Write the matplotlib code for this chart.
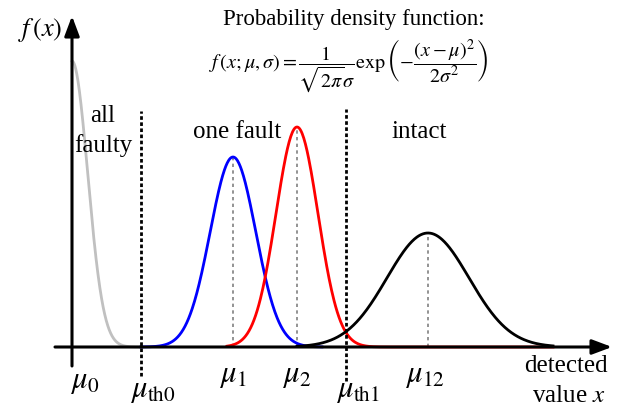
import matplotlib
matplotlib.use('Agg')
import matplotlib.pyplot as plt
import numpy as np

plt.rcParams['font.family'] = ['Liberation Serif', 'DejaVu Serif']
plt.rcParams['mathtext.fontset'] = 'stix'

# distribution parameters (x in axis units, origin at mu0)
names = ['all faulty', 'one fault 1', 'one fault 2', 'intact']
means = [0, 161, 225, 356]
sigmas = [15.7, 22.8, 21.0, 41.0]
peaks = [286, 190, 220, 114]
x_ranges = [(0, 69), (69, 250), (155, 481), (225, 481)]
colors = ['#c0c0c0', '#0000ff', '#ff0000', '#000000']

# thresholds
thresholds = [69, 274]
th_tops = [236, 238]
th_bottoms = [-29, -34]

# tick labels under the axis
tick_pos = [13, 81, 161, 225, 286, 353]
tick_y = [-34, -43, -28, -28, -43, -28]
tick_labels = [r'$\mu_0$', r'$\mu_{\mathrm{th0}}$', r'$\mu_1$', r'$\mu_2$',
               r'$\mu_{\mathrm{th1}}$', r'$\mu_{12}$']


def gauss(x, mu, sig, amp):
    return amp * np.exp(-(x - mu) ** 2 / (2 * sig ** 2))


fig = plt.figure(figsize=(6.24, 4.06), dpi=100)
ax = fig.add_axes([0, 0, 1, 1])
ax.set_xlim(-72, 552)
ax.set_ylim(-58, 348)
ax.axis('off')

for mu, sig, amp, (x0, x1), c in zip(means, sigmas, peaks, x_ranges, colors):
    xs = np.linspace(x0, x1, 400)
    ax.plot(xs, gauss(xs, mu, sig, amp), color=c, lw=2.0, zorder=3)

# dotted lines from axis to peaks
for mu, amp in zip(means[1:], peaks[1:]):
    ax.plot([mu, mu], [0, amp], color='#808080', lw=1.2,
            linestyle=(0, (2, 2)), zorder=2)

# thresholds
for th, top, bot in zip(thresholds, th_tops, th_bottoms):
    ax.plot([th, th], [bot, top], color='k', lw=2.0,
            linestyle=(0, (1.3, 0.9)), zorder=4)

# axes with arrows
ax.annotate('', xy=(540, 0), xytext=(-17, 0),
            arrowprops=dict(arrowstyle='-|>,head_length=0.8,head_width=0.3',
                            lw=2.2, color='k', mutation_scale=15,
                            shrinkA=0, shrinkB=0), zorder=5)
ax.annotate('', xy=(0, 331), xytext=(0, -19),
            arrowprops=dict(arrowstyle='-|>,head_length=0.8,head_width=0.3',
                            lw=2.2, color='k', mutation_scale=15,
                            shrinkA=0, shrinkB=0), zorder=5)

for xp, yp, lab in zip(tick_pos, tick_y, tick_labels):
    ax.text(xp, yp, lab, fontsize=22, ha='center', va='center')

ax.text(-32, 318, r'$f\,(x)$', fontsize=19, ha='center', va='center')
ax.text(282, 329, 'Probability density function:', fontsize=16.5,
        ha='center', va='center')
ax.text(277, 282,
        r'$f\,(x;\mu,\sigma)=\dfrac{1}{\sqrt{2\pi}\sigma}\exp\left(-\dfrac{(x-\mu)^2}{2\sigma^2}\right)$',
        fontsize=14.5, ha='center', va='center')
ax.text(31, 217, 'all\nfaulty', fontsize=18, ha='center', va='center',
        linespacing=1.35)
ax.text(165, 216, 'one fault', fontsize=18, ha='center', va='center')
ax.text(347, 216, 'intact', fontsize=18, ha='center', va='center')
ax.text(536, -18, 'detected', fontsize=18, ha='right', va='center')
ax.text(534, -48, r'value $x$', fontsize=18, ha='right', va='center')

fig.savefig('out.png', dpi=100)
